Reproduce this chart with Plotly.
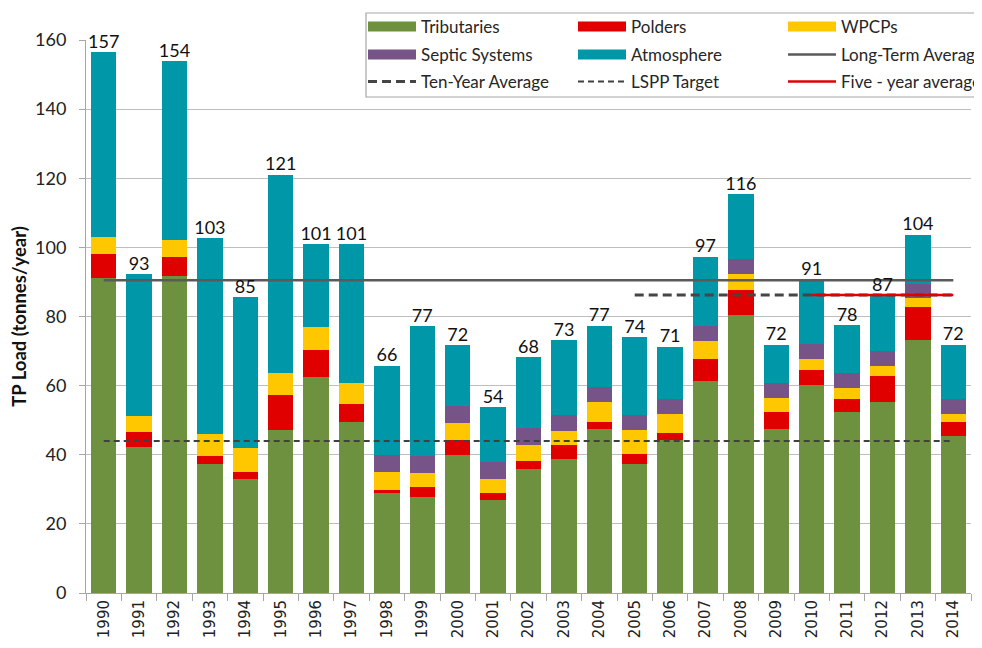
import plotly.graph_objects as go

years = [str(y) for y in range(1990, 2015)]
tributaries = [91.1, 42.2, 91.7, 37.4, 32.9, 47.3, 62.6, 49.4, 28.8, 27.7, 39.9, 27.0, 36.0,
               38.8, 47.4, 37.2, 44.2, 61.2, 80.5, 47.4, 60.2, 52.3, 55.4, 73.3, 45.5]
polders = [7.0, 4.3, 5.6, 2.2, 2.0, 10.0, 7.8, 5.4, 0.9, 3.0, 4.5, 1.9, 2.2,
           3.9, 2.0, 2.9, 2.1, 6.5, 7.2, 5.0, 4.3, 3.9, 7.3, 9.4, 3.9]
wpcps = [5.0, 4.7, 4.7, 6.4, 7.0, 6.3, 6.7, 5.9, 5.3, 4.0, 4.8, 4.2, 4.6,
         4.1, 5.9, 7.0, 5.6, 5.2, 4.5, 4.0, 3.3, 3.0, 3.1, 2.6, 2.5]
septic = [0, 0, 0, 0, 0, 0, 0, 0, 4.8, 4.9, 4.8, 4.8, 4.8,
          4.8, 4.4, 4.3, 4.2, 4.3, 4.4, 4.3, 4.2, 4.4, 4.3, 4.1, 4.2]
atmosphere = [53.3, 41.0, 51.9, 56.7, 43.6, 57.4, 23.8, 40.2, 26.0, 37.6, 17.7, 15.9, 20.6,
              21.5, 17.6, 22.6, 15.2, 20.1, 18.8, 11.1, 18.8, 13.9, 16.0, 14.3, 15.7]
total_labels = [157, 93, 154, 103, 85, 121, 101, 101, 66, 77, 72, 54, 68,
                73, 77, 74, 71, 97, 116, 72, 91, 78, 87, 104, 72]

long_term_avg = 90.5
ten_year_avg = 86.2
five_year_avg = 86.2
lspp_target = 44.0
ten_year_start = "2005"
five_year_start = "2010"

totals = [a + b + c + d + e for a, b, c, d, e in zip(tributaries, polders, wpcps, septic, atmosphere)]

FONT = "Lato"
fig = go.Figure()
series = [
    ("Tributaries", tributaries, "#6E9140", "legend"),
    ("Polders", polders, "#E00000", "legend"),
    ("WPCPs", wpcps, "#FFC700", "legend"),
    ("Septic Systems", septic, "#775487", "legend2"),
    ("Atmosphere", atmosphere, "#0097A8", "legend2"),
]
for name, vals, col, lg in series:
    fig.add_trace(go.Bar(x=years, y=vals, name=name, showlegend=False,
                         marker=dict(color=col, line=dict(width=0))))

# legend swatches drawn as wide rectangles (like the original key)
for name, vals, col, lg in series:
    fig.add_trace(go.Scatter(x=[None], y=[None], mode="lines", name=name, legend=lg,
                             line=dict(color=col, width=12), hoverinfo="skip"))

fig.add_trace(go.Scatter(x=[years[0], years[-1]], y=[long_term_avg, long_term_avg], mode="lines",
                         name="Long-Term Average", legend="legend2",
                         line=dict(color="#5A5A5A", width=2.5)))
fig.add_trace(go.Scatter(x=[ten_year_start, years[-1]], y=[ten_year_avg, ten_year_avg], mode="lines",
                         name="Ten-Year Average", legend="legend3",
                         line=dict(color="#454545", width=3, dash="9px,5px")))
fig.add_trace(go.Scatter(x=[years[0], years[-1]], y=[lspp_target, lspp_target], mode="lines",
                         name="LSPP Target", legend="legend3",
                         line=dict(color="#404040", width=2, dash="6px,4px")))
fig.add_trace(go.Scatter(x=[five_year_start, years[-1]], y=[five_year_avg, five_year_avg], mode="lines",
                         name="Five - year average", legend="legend3",
                         line=dict(color="#E00000", width=2.5)))

fig.add_trace(go.Scatter(x=years, y=totals, mode="text", text=[str(v) for v in total_labels],
                         textposition="top center", textfont=dict(family=FONT, size=18, color="#111"),
                         showlegend=False, cliponaxis=False, hoverinfo="skip"))

legend_common = dict(orientation="h", x=0.313, xanchor="left", yanchor="middle",
                     traceorder="normal", bgcolor="rgba(0,0,0,0)", borderwidth=0,
                     font=dict(family=FONT, size=17, color="#262626"),
                     entrywidth=147, entrywidthmode="pixels", itemwidth=48)

fig.update_layout(
    width=982, height=648,
    barmode="stack", bargap=0.285,
    plot_bgcolor="white", paper_bgcolor="white",
    margin=dict(l=78, r=19, t=32, b=63, autoexpand=False),
    font=dict(family=FONT, size=15, color="#222"),
    legend=dict(y=1.0235, **legend_common),
    legend2=dict(y=0.9729, **legend_common),
    legend3=dict(y=0.9241, **legend_common),
    showlegend=True,
    shapes=[dict(type="rect", xref="paper", yref="paper", x0=0.3164, x1=1.05, y0=0.8969, y1=1.0488,
                 line=dict(color="#A6A6A6", width=1.2), fillcolor="white", layer="above")],
)
fig.update_yaxes(range=[0, 160], dtick=20, showgrid=True, gridcolor="#BEBEBE", gridwidth=1,
                 showline=True, linecolor="#A6A6A6", linewidth=1, ticks="outside", ticklen=6,
                 tickcolor="#A6A6A6", tickfont=dict(family=FONT, size=18, color="#222"),
                 ticklabelstandoff=9,
                 zeroline=False, automargin=False,
                 title=dict(text="<b>TP Load (tonnes/year)</b>", font=dict(family=FONT, size=18.5, color="#111"),
                            standoff=6))
fig.update_xaxes(type="category", range=[-0.5, len(years) - 0.5], showline=True,
                 linecolor="#A6A6A6", linewidth=1,
                 ticks="outside", tickson="boundaries", ticklen=7, tickcolor="#A6A6A6",
                 tickangle=-90, tickfont=dict(family="DejaVu Sans", size=15, color="#222"),
                 showgrid=False, automargin=False)

fig.write_html("out.html")
